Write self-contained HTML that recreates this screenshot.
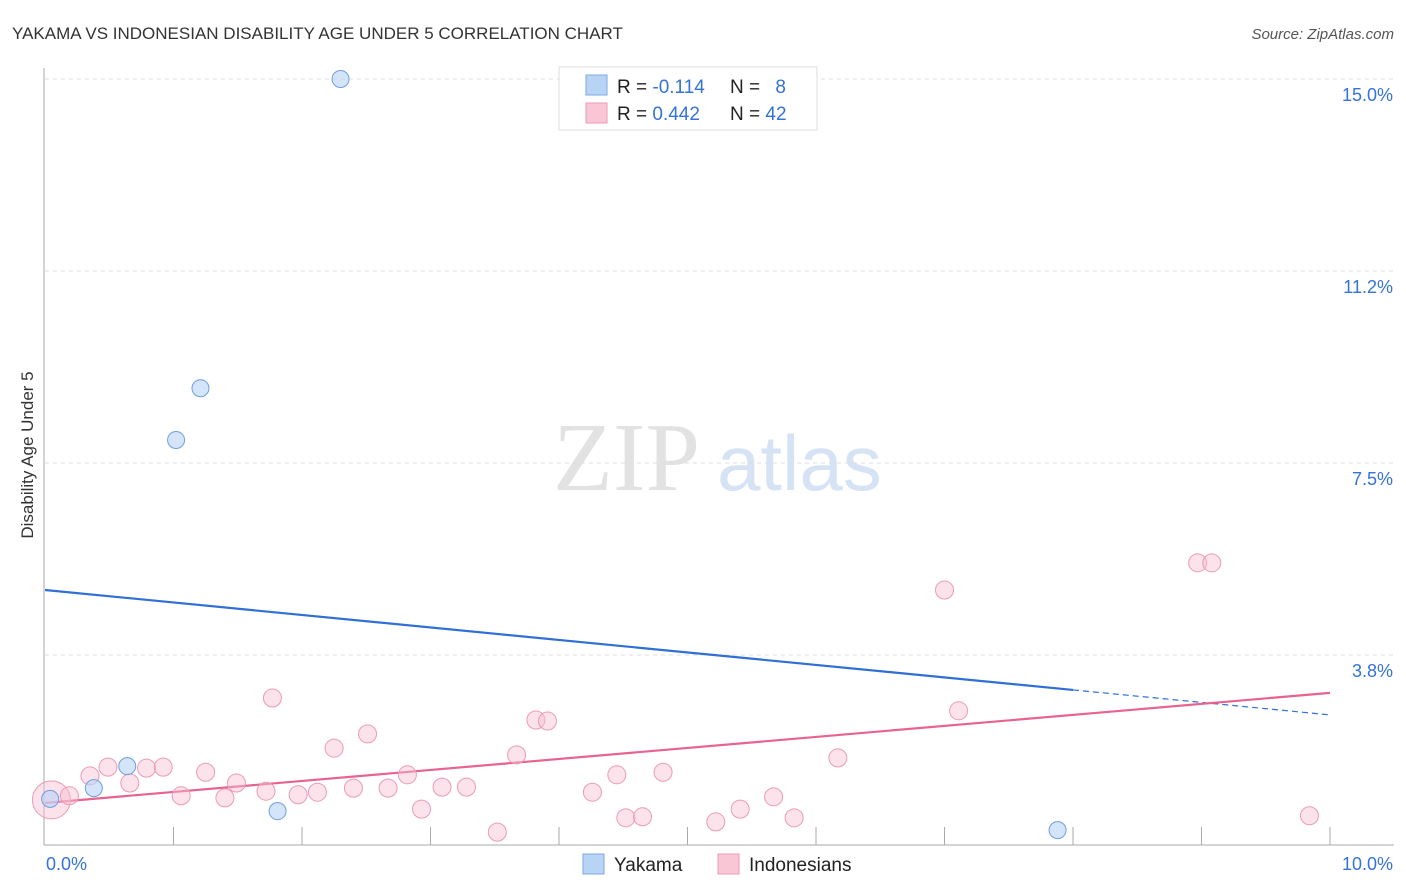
<!DOCTYPE html>
<html><head><meta charset="utf-8"><style>
body{margin:0;background:#fff;font-family:"Liberation Sans",sans-serif;}
#wrap{position:relative;width:1406px;height:892px;overflow:hidden;}
</style></head><body>
<div id="wrap">
<svg id="svg" width="1406" height="892" xmlns="http://www.w3.org/2000/svg">
<text x="12" y="39" font-size="17" fill="#333">YAKAMA VS INDONESIAN DISABILITY AGE UNDER 5 CORRELATION CHART</text>
<text x="1394" y="39" font-size="15" fill="#555" font-style="italic" text-anchor="end">Source: ZipAtlas.com</text>
<text x="33" y="455" font-size="17" fill="#333" text-anchor="middle" transform="rotate(-90 33 455)">Disability Age Under 5</text>
<text x="553" y="490" font-size="98" fill="#e2e2e2" font-family="Liberation Serif,serif">ZIP</text>
<text x="717" y="490" font-size="78" fill="#d6e3f5">atlas</text>
<g id="grid"></g><g id="axes"></g><g id="lines"></g><g id="pts"></g>
<g>
<rect x="559" y="67" width="258" height="63" fill="#fff" stroke="#ddd"/>
<rect x="586" y="75" width="21" height="20" fill="#b9d3f5" stroke="#7aa8e6"/>
<rect x="586" y="103" width="21" height="20" fill="#f9c6d5" stroke="#ee9ab4"/>
<text x="617" y="93" font-size="19" fill="#222">R = <tspan fill="#3573d6">-0.114</tspan></text>
<text x="730" y="93" font-size="19" fill="#222">N = <tspan fill="#3573d6" dx="10">8</tspan></text>
<text x="617" y="120" font-size="19" fill="#222">R = <tspan fill="#3573d6">0.442</tspan></text>
<text x="730" y="120" font-size="19" fill="#222">N = <tspan fill="#3573d6">42</tspan></text>
</g>
<g>
<rect x="583" y="854" width="21" height="20" fill="#b9d3f5" stroke="#7aa8e6"/>
<text x="614" y="871" font-size="19" fill="#222">Yakama</text>
<rect x="718" y="854" width="21" height="20" fill="#f9c6d5" stroke="#ee9ab4"/>
<text x="749" y="871" font-size="19" fill="#222">Indonesians</text>
</g>
</svg></div>
<script>
const yTicks=[3.75,7.5,11.25,15];
const yTickLabels=["3.8%","7.5%","11.2%","15.0%"];
const xTickLabels=["0.0%","10.0%"];
const yakamaX=[0.04,0.38,0.64,1.81,1.02,1.21,2.30,7.88];
const yakamaY=[0.94,1.15,1.58,0.70,7.95,8.96,15.0,0.33];
const indoX=[0.05,0.19,0.35,0.49,0.66,0.79,0.92,1.06,1.25,1.40,1.49,1.72,1.77,1.97,2.12,2.25,2.40,2.51,2.67,2.82,2.93,3.09,3.28,3.52,3.67,3.82,3.91,4.26,4.45,4.52,4.65,4.81,5.22,5.41,5.67,5.83,6.17,7.00,7.11,8.97,9.08,9.84];
const indoY=[0.92,1.00,1.39,1.56,1.25,1.54,1.56,1.00,1.46,0.96,1.25,1.09,2.91,1.02,1.07,1.93,1.15,2.21,1.15,1.41,0.74,1.17,1.17,0.29,1.80,2.48,2.46,1.07,1.41,0.57,0.59,1.46,0.49,0.74,0.98,0.57,1.74,5.02,2.66,5.55,5.55,0.61];
const yakamaTrend=[5.02,2.58];
const indoTrend=[0.86,3.01];
const X=v=>45+v*128.5, Y=v=>847-v*51.2;
const NS="http://www.w3.org/2000/svg";
function mk(tag,parent,attrs){const e=document.createElementNS(NS,tag);for(const k in attrs)e.setAttribute(k,attrs[k]);document.getElementById(parent).appendChild(e);return e;}
yTicks.forEach((t,i)=>{
 const l=mk('line','grid',{x1:45,x2:1394,y1:Y(t),y2:Y(t),stroke:'#ddd','stroke-dasharray':'4,4'});
 
 
 const tx=mk('text','grid',{x:1393,y:Y(t)+22,'font-size':18,fill:'#3573d6','text-anchor':'end'});
 tx.textContent=yTickLabels[i];
 
 
});
const ax=mk('path','axes',{d:`M44,68 V845 H1394`,stroke:'#aaa',fill:'none'});


for(let k=1;k<=10;k++){const t=mk('line','axes',{x1:X(k),x2:X(k),y1:827,y2:845,stroke:'#aaa'});
 
 }
[[0,'start',46],[10,'end',1393]].forEach((a,i)=>{const t=mk('text','axes',{x:a[2],y:870,'font-size':18,fill:'#3573d6','text-anchor':a[1]});t.textContent=xTickLabels[i];
 
 });
const b8=yakamaTrend[0]+(yakamaTrend[1]-yakamaTrend[0])*0.8;
let l1=mk('line','lines',{x1:X(0),y1:Y(yakamaTrend[0]),x2:X(8),y2:Y(b8),stroke:'#2f6fd6','stroke-width':2.2});


let l2=mk('line','lines',{x1:X(8),y1:Y(b8),x2:X(10),y2:Y(yakamaTrend[1]),stroke:'#2f6fd6','stroke-width':1.2,'stroke-dasharray':'6,4'});


let l3=mk('line','lines',{x1:X(0),y1:Y(indoTrend[0]),x2:X(10),y2:Y(indoTrend[1]),stroke:'#e8638f','stroke-width':2.2});


indoX.forEach((x,i)=>{const c=mk('circle','pts',{cx:X(x),cy:Y(indoY[i]),r:i===0?19:9,fill:'rgba(249,190,208,0.45)',stroke:'#eb9bb6','stroke-width':1});
 
 });
yakamaX.forEach((x,i)=>{const c=mk('circle','pts',{cx:X(x),cy:Y(yakamaY[i]),r:8.5,fill:'rgba(185,211,245,0.6)',stroke:'#6f9ee0','stroke-width':1});
 
 });
</script>
</body></html>
